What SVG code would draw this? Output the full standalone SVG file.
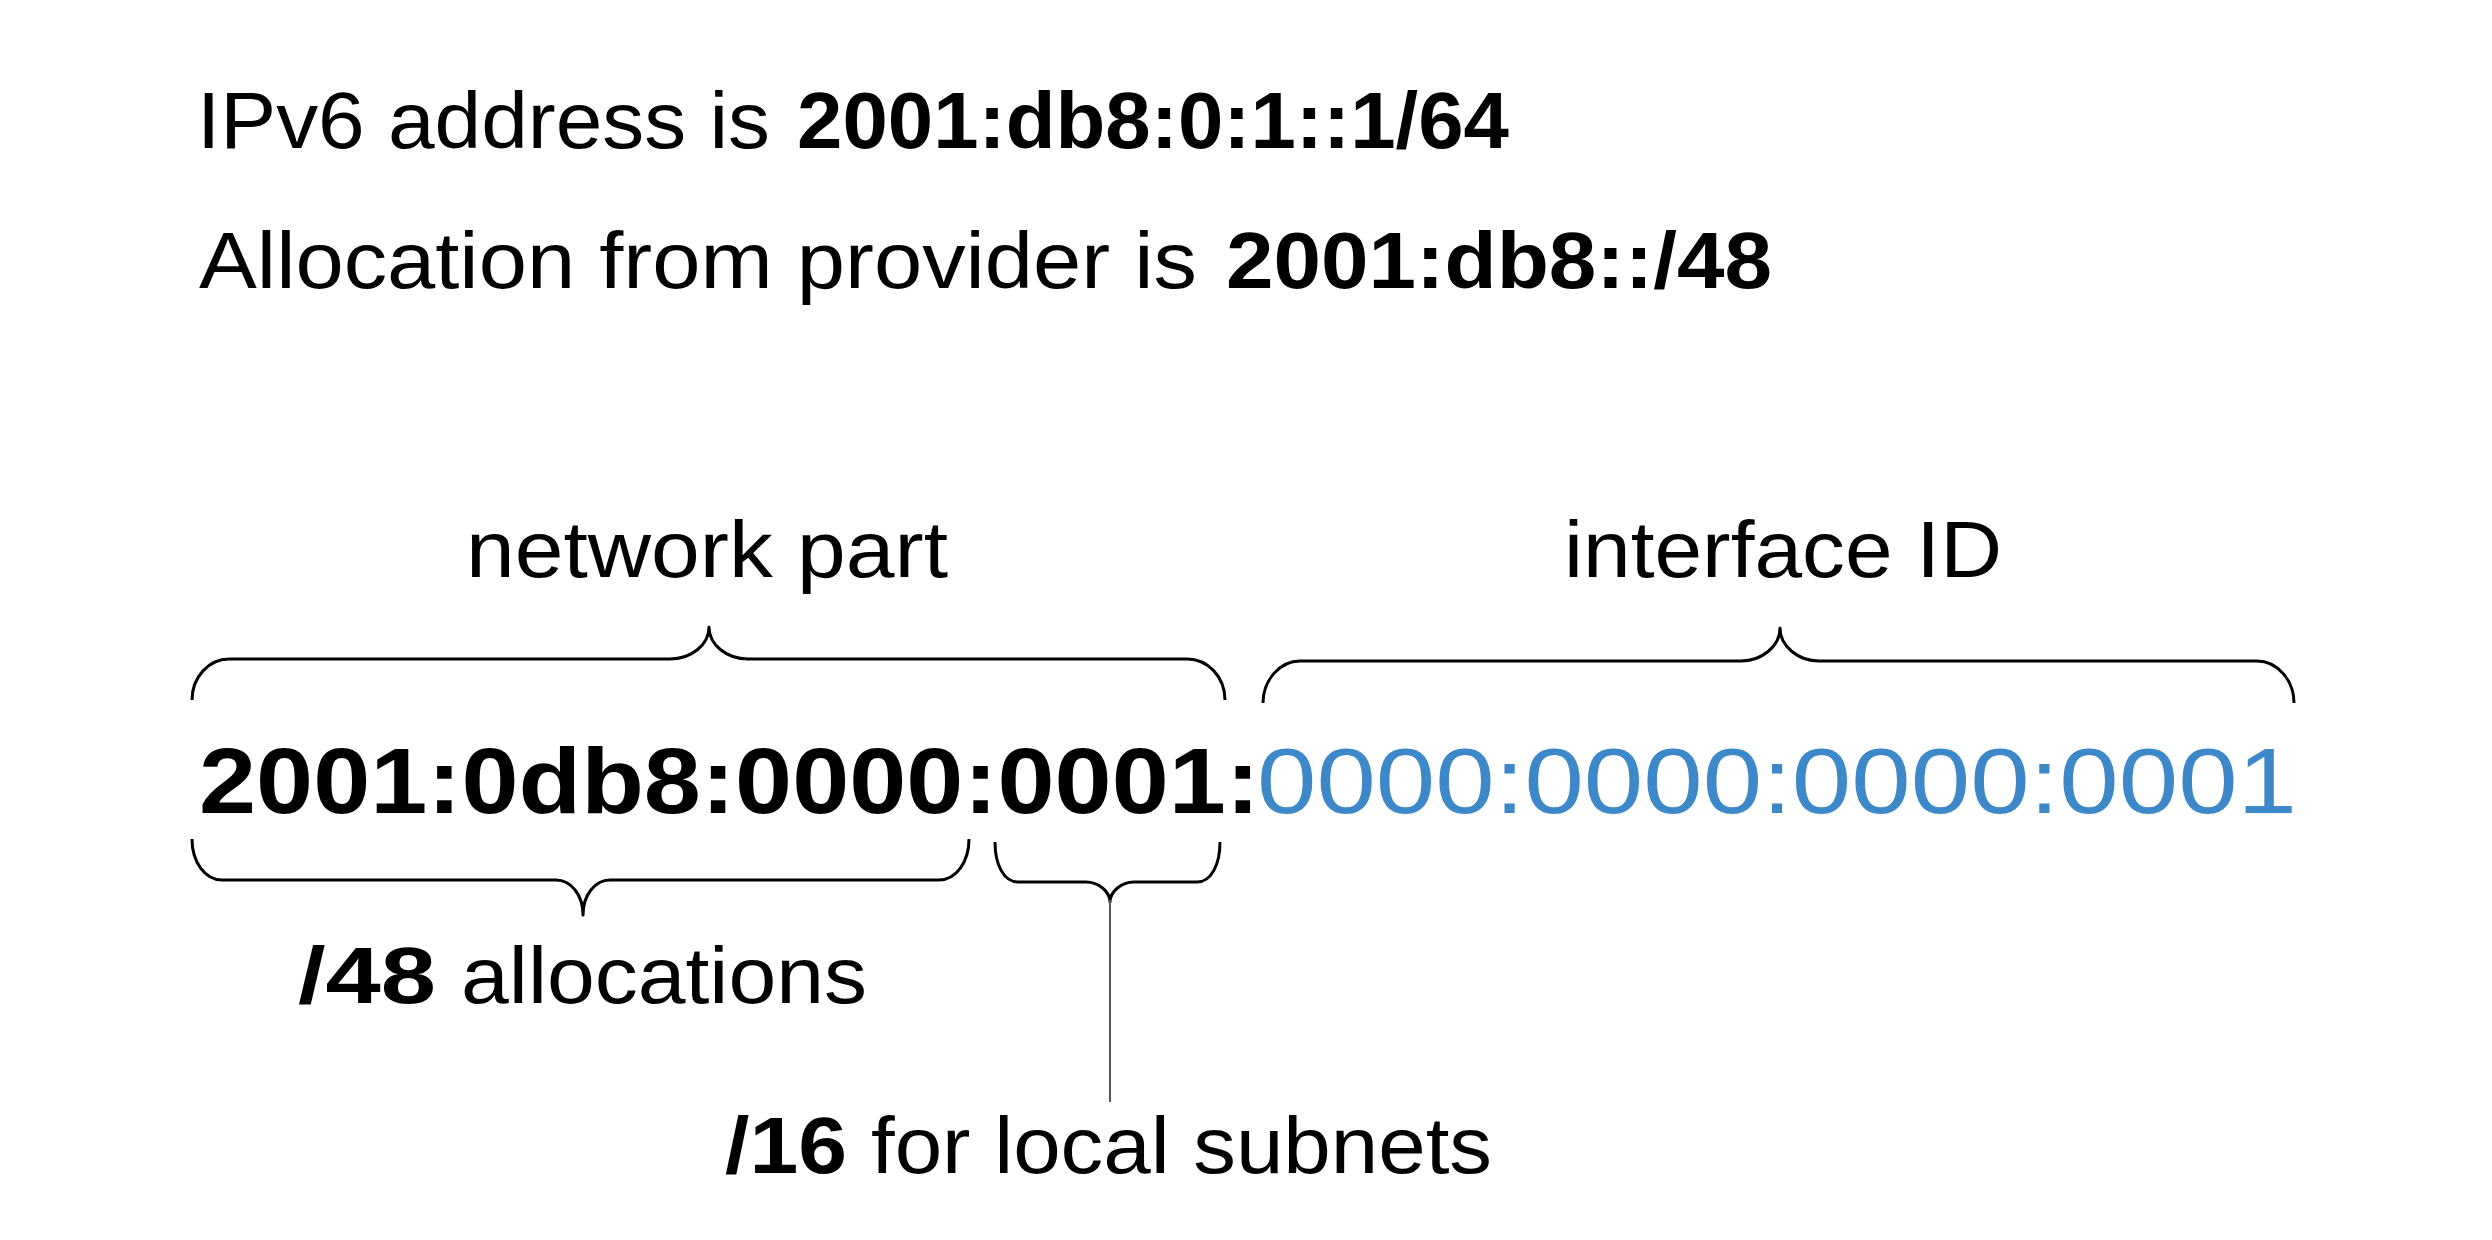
<svg xmlns="http://www.w3.org/2000/svg" width="2492" height="1240" viewBox="0 0 2492 1240">
  <style>
    text { font-family: "Liberation Sans", Arial, sans-serif; fill: #000; }
    .r { font-size: 80px; font-weight: normal; }
    .b { font-size: 80px; font-weight: bold; }
    .addr { font-size: 92px; }
    .blue { fill: #3d88c9; }
    .brace { fill: none; stroke: #000; stroke-width: 3; stroke-linejoin: round; }
    .lead { fill: none; stroke: #555; stroke-width: 2; }
  </style>
  <rect x="0" y="0" width="2492" height="1240" fill="#ffffff"/>

  <g id="title-address">
    <text class="r" x="197" y="148" textLength="573" lengthAdjust="spacingAndGlyphs">IPv6 address is</text>
    <text class="b" x="797" y="148" textLength="712" lengthAdjust="spacingAndGlyphs">2001:db8:0:1::1/64</text>
  </g>
  <g id="title-allocation">
    <text class="r" x="199" y="288" textLength="998" lengthAdjust="spacingAndGlyphs">Allocation from provider is</text>
    <text class="b" x="1226" y="288" textLength="546" lengthAdjust="spacingAndGlyphs">2001:db8::/48</text>
  </g>

  <g id="label-network-part">
    <text class="r" x="466" y="577" textLength="482" lengthAdjust="spacingAndGlyphs">network part</text>
  </g>
  <g id="label-interface-id">
    <text class="r" x="1564" y="577" textLength="438" lengthAdjust="spacingAndGlyphs">interface ID</text>
  </g>

  <g id="address">
    <text class="b addr" x="199" y="813" textLength="1061" lengthAdjust="spacingAndGlyphs">2001:0db8:0000:0001:</text>
    <text class="r addr blue" x="1257" y="813" textLength="1040" lengthAdjust="spacingAndGlyphs">0000:0000:0000:0001</text>
  </g>

  <g id="label-48">
    <text class="b" x="298" y="1003" textLength="138" lengthAdjust="spacingAndGlyphs">/48</text>
    <text class="r" x="461" y="1003" textLength="406" lengthAdjust="spacingAndGlyphs">allocations</text>
  </g>
  <g id="label-16">
    <text class="b" x="725" y="1173" textLength="122" lengthAdjust="spacingAndGlyphs">/16</text>
    <text class="r" x="871" y="1173" textLength="621" lengthAdjust="spacingAndGlyphs">for local subnets</text>
  </g>

  <g id="connectors">
    <path class="brace" d="M192,700 C192,677 209,659 229,659 L670,659 C691,659 709,645 709,627 C709,645 727,659 748,659 L1187,659 C1208,659 1225,677 1225,700"/>
    <path class="brace" d="M1263,703 C1263,680 1280,661 1300,661 L1741,661 C1762,661 1780,646 1780,628 C1780,646 1798,661 1819,661 L2257,661 C2277,661 2294,680 2294,703"/>
    <path class="brace" d="M192,839 C192,862 205,880 222,880 L556,880 C571,880 583,895 583,915 C583,895 595,880 610,880 L939,880 C956,880 969,862 969,839"/>
    <path class="brace" d="M995,842 C995,865 1004,882 1018,882 L1086,882 C1099,882 1110,892 1110,902 C1110,892 1121,882 1134,882 L1197,882 C1211,882 1220,865 1220,842"/>
    <path class="lead" d="M1110,900 L1110,1102"/>
  </g>
</svg>
